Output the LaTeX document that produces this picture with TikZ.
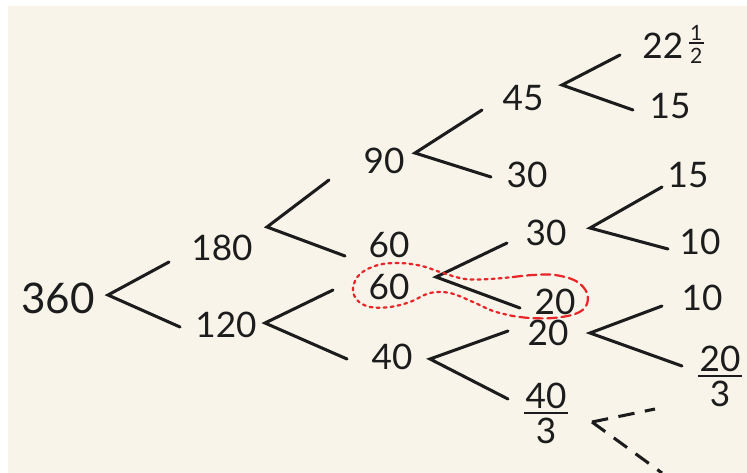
\documentclass[tikz,border=0pt]{standalone}
\usepackage{fontspec}
\setmainfont{Lato}
\usetikzlibrary{positioning}
\definecolor{paper}{HTML}{F8F4E9}
\definecolor{ink}{HTML}{1C1C1C}
\definecolor{loopred}{HTML}{E8262A}
\newcommand{\stackfrac}[2]{{\renewcommand{\arraystretch}{0.3}\setlength{\arrayrulewidth}{1.8pt}\begin{tabular}{@{\hspace{1pt}}c@{\hspace{1pt}}}#1\\\hline\noalign{\vskip 3pt}#2\end{tabular}}}
\tikzset{num/.style={font=\fontsize{30}{32}\selectfont, text=ink, inner sep=0pt}, bignum/.style={num, font=\fontsize{36}{38}\selectfont}, branch/.style={draw=ink, line width=2.6pt, line cap=round}, guess/.style={draw=ink, line width=2.6pt, dash pattern=on 14pt off 9pt}, loopdot/.style={draw=loopred, line width=1.9pt, line cap=round, dash pattern=on 2.5pt off 3.5pt}, loopdash/.style={draw=loopred, line width=1.9pt, line cap=round, dash pattern=on 8pt off 4pt}}

\begin{document}
\begin{tikzpicture}[x=0.03cm, y=-0.03cm]
\useasboundingbox (0,0) rectangle (747,473);
\fill[white] (0,0) rectangle (747,473);
\fill[paper] (8,6) rectangle (747,473);
\node[bignum] (n360) at (58,298) {360};
\node[num] (n180) at (222,248) {180};
\node[num] (n120) at (226,325) {120};
\node[num] (n90) at (384,161) {90};
\node[num] (n60a) at (389,245) {60};
\node[num] (n60b) at (389,287) {60};
\node[num] (n40) at (392,357) {40};
\node[num] (n45) at (523,98) {45};
\node[num] (n30a) at (527,175) {30};
\node[num] (n30b) at (546,233) {30};
\node[num] (n20a) at (555,302) {20};
\node[num] (n20b) at (548,333) {20};
\node[num] (n40t) at (546,415) {\stackfrac{40}{3}};
\node[num] (n22) at (673,45) {22\,\raisebox{7pt}{\fontsize{18}{19}\selectfont\stackfrac{1}{2}}};
\node[num] (n15a) at (670,106) {15};
\node[num] (n15b) at (688,175) {15};
\node[num] (n10a) at (700,242) {10};
\node[num] (n10b) at (702,298) {10};
\node[num] (n20t) at (720,378) {\stackfrac{20}{3}};
\coordinate (u360) at (169,262); \coordinate (v360) at (108,295); \coordinate (d360) at (180,327);
\coordinate (u180) at (329,180); \coordinate (v180) at (267,227); \coordinate (d180) at (345,256);
\coordinate (u120) at (333,290); \coordinate (v120) at (265,323); \coordinate (d120) at (347,359);
\coordinate (u90) at (482,110); \coordinate (v90) at (415,153); \coordinate (d90) at (491,177);
\coordinate (u45) at (620,55); \coordinate (v45) at (562,85); \coordinate (d45) at (633,110);
\coordinate (u60) at (507,243); \coordinate (v60) at (436,277); \coordinate (d60) at (520,308);
\coordinate (u30) at (662,187); \coordinate (v30) at (590,228); \coordinate (d30) at (668,249);
\coordinate (u40) at (508,331); \coordinate (v40) at (430,359); \coordinate (d40) at (508,399);
\coordinate (u20) at (662,306); \coordinate (v20) at (590,333); \coordinate (d20) at (682,366);
\coordinate (u40t) at (655,409); \coordinate (v40t) at (592,422); \coordinate (d40t) at (662,473);
\draw[branch] (u360) -- (v360) -- (d360);
\draw[branch] (u180) -- (v180) -- (d180);
\draw[branch] (u120) -- (v120) -- (d120);
\draw[branch] (u90) -- (v90) -- (d90);
\draw[branch] (u45) -- (v45) -- (d45);
\draw[branch] (u60) -- (v60) -- (d60);
\draw[branch] (u30) -- (v30) -- (d30);
\draw[branch] (u40) -- (v40) -- (d40);
\draw[branch] (u20) -- (v20) -- (d20);
\draw[guess] (v40t) -- (u40t);
\draw[guess] (v40t) -- (d40t);
\draw[loopdot] plot[smooth, tension=0.6] coordinates {(513,316) (493,311) (473,302) (450,293) (430,293) (410,302) (390,307) (370,307) (357,300) (353,288) (360,274) (378,265) (400,263) (422,266) (440,272) (465,279) (490,279) (513,277)};
\draw[loopdash] plot[smooth, tension=0.6] coordinates {(513,277) (533,275) (555,275) (576,281) (587,293) (586,306) (575,314) (553,318) (530,318) (513,316)};
\end{tikzpicture}
\end{document}
